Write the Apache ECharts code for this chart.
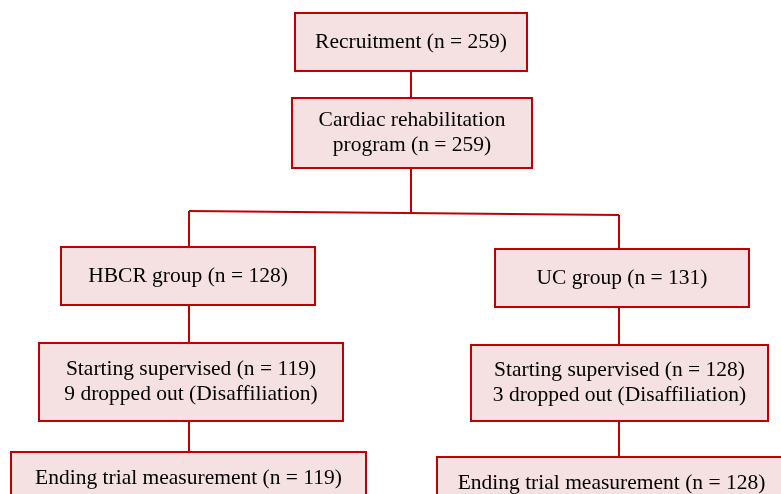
<!DOCTYPE html>
<html>
<head>
<meta charset="utf-8">
<script src="https://cdn.jsdelivr.net/npm/echarts@6/dist/echarts.min.js"></script>
<style>
  html, body { margin: 0; padding: 0; background: #fff; }
  #chart { width: 781px; height: 494px; }
</style>
</head>
<body>
<div id="chart"></div>
<script>
// flow steps and their counts
const stepNames = ['Recruitment', 'Cardiac rehabilitation\nprogram', 'HBCR group', 'UC group',
  'Starting supervised', 'Starting supervised', 'Ending trial measurement', 'Ending trial measurement'];
const stepN = [259, 259, 128, 131, 119, 128, 119, 128];
const droppedOut = [null, null, null, null, 9, 3, null, null];

// layout (pixel space of the 781x494 picture): [x0, y0, x1, y1]
const boxLayout = [
  [295, 13, 527, 71],
  [292, 98, 532, 168],
  [61, 247, 315, 305],
  [495, 249, 749, 307],
  [39, 343, 343, 421],
  [471, 345, 768, 421],
  [11, 452, 366, 504],
  [437, 457, 786, 509]
];
// connector segments
const links = [
  [[411, 71], [411, 98]],
  [[411, 168], [411, 213]],
  [[189, 211], [619, 215]],
  [[189, 211], [189, 247]],
  [[619, 215], [619, 249]],
  [[189, 305], [189, 343]],
  [[619, 307], [619, 345]],
  [[189, 421], [189, 452]],
  [[619, 421], [619, 457]]
];

const labels = stepNames.map((s, i) => {
  let t = s + ' (n = ' + stepN[i] + ')';
  if (droppedOut[i] != null) t += '\n' + droppedOut[i] + ' dropped out (Disaffiliation)';
  return t;
});

const chart = echarts.init(document.getElementById('chart'));

chart.setOption({
  animation: false,
  grid: { left: 0, right: 0, top: 0, bottom: 0 },
  xAxis: { type: 'value', min: 0, max: 781, show: false },
  yAxis: { type: 'value', min: 0, max: 494, inverse: true, show: false },
  series: [
    {
      type: 'lines',
      coordinateSystem: 'cartesian2d',
      polyline: false,
      silent: true,
      lineStyle: { color: '#c00000', width: 2, opacity: 1 },
      data: links.map(l => ({ coords: l }))
    },
    {
      type: 'custom',
      silent: true,
      data: boxLayout.map((b, i) => b.concat([i])),
      renderItem: function (params, api) {
        const p0 = api.coord([api.value(0), api.value(1)]);
        const p1 = api.coord([api.value(2), api.value(3)]);
        const idx = api.value(4);
        return {
          type: 'rect',
          shape: { x: p0[0], y: p0[1], width: p1[0] - p0[0], height: p1[1] - p0[1] },
          style: { fill: '#f5e1e1', stroke: '#c00000', lineWidth: 2 },
          textContent: {
            style: {
              text: labels[idx],
              font: '21.5px "Liberation Serif"',
              fill: '#000',
              align: 'center',
              verticalAlign: 'middle',
              lineHeight: 25
            }
          },
          textConfig: { position: 'inside' }
        };
      }
    }
  ]
});
</script>
</body>
</html>
